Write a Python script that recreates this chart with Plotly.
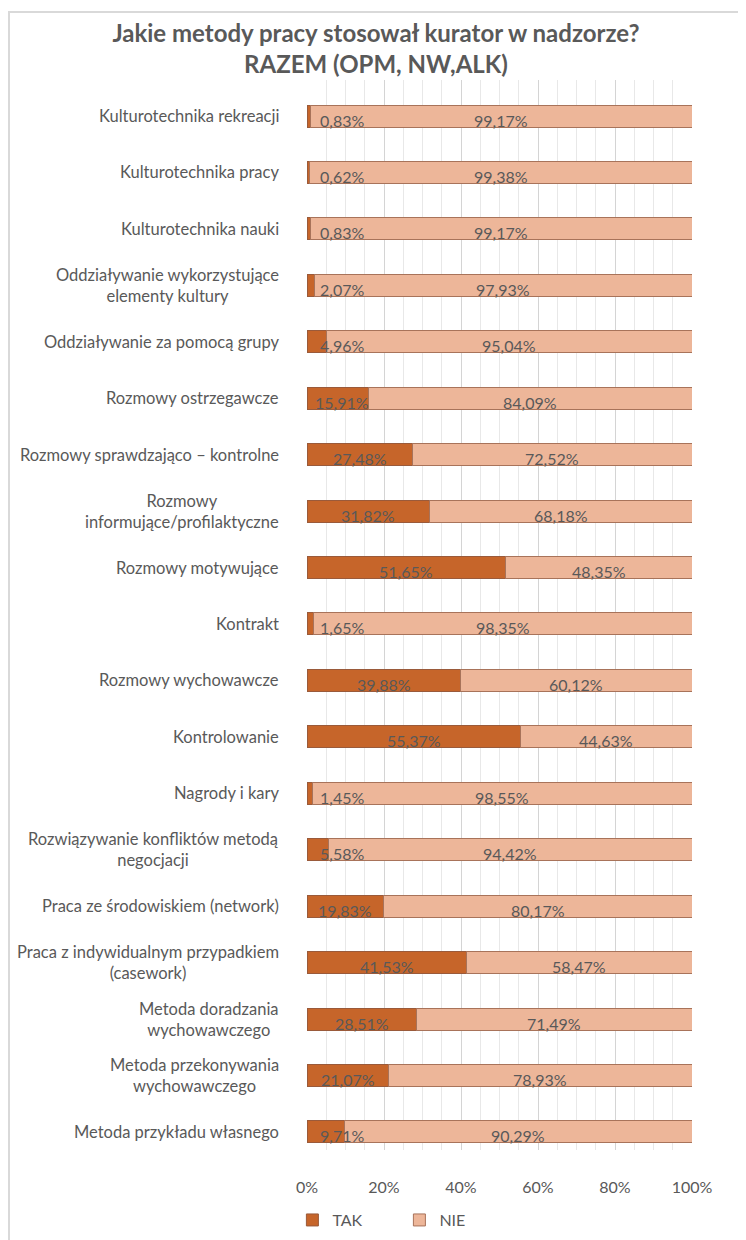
import plotly.graph_objects as go

categories = [
    "Kulturotechnika rekreacji",
    "Kulturotechnika pracy",
    "Kulturotechnika nauki",
    "Oddziaływanie wykorzystujące<br>elementy kultury",
    "Oddziaływanie za pomocą grupy",
    "Rozmowy ostrzegawcze",
    "Rozmowy sprawdzająco – kontrolne",
    "Rozmowy<br>informujące/profilaktyczne",
    "Rozmowy motywujące",
    "Kontrakt",
    "Rozmowy wychowawcze",
    "Kontrolowanie",
    "Nagrody i kary",
    "Rozwiązywanie konfliktów metodą<br>negocjacji",
    "Praca ze środowiskiem (network)",
    "Praca z indywidualnym przypadkiem<br>(casework)",
    "Metoda doradzania<br>wychowawczego",
    "Metoda przekonywania<br>wychowawczego",
    "Metoda przykładu własnego",
]
tak = [0.83, 0.62, 0.83, 2.07, 4.96, 15.91, 27.48, 31.82, 51.65, 1.65,
       39.88, 55.37, 1.45, 5.58, 19.83, 41.53, 28.51, 21.07, 9.71]
nie = [99.17, 99.38, 99.17, 97.93, 95.04, 84.09, 72.52, 68.18, 48.35, 98.35,
       60.12, 44.63, 98.55, 94.42, 80.17, 58.47, 71.49, 78.93, 90.29]
x_ticks = [0, 20, 40, 60, 80, 100]
series_names = ["TAK", "NIE"]

GRAY = "#595959"
FONT = "Lato"
C_TAK = "#C6652A"
C_NIE = "#EDB699"

def fmt(v):
    return f"{v:.2f}".replace(".", ",") + "%"

fig = go.Figure()
fig.add_trace(go.Bar(
    name=series_names[0], y=categories, x=tak, orientation="h",
    marker=dict(color=C_TAK, line=dict(color="#9A5A3A", width=1)),
    width=0.39, hoverinfo="skip",
))
fig.add_trace(go.Bar(
    name=series_names[1], y=categories, x=nie, orientation="h",
    marker=dict(color=C_NIE, line=dict(color="#A8735A", width=1)),
    width=0.39, hoverinfo="skip",
))

annotations = []
for cat, t, n in zip(categories, tak, nie):
    annotations.append(dict(
        x=max(t / 2, 9.0), y=cat, xref="x", yref="y", text=fmt(t),
        showarrow=False, xanchor="center", yanchor="middle", yshift=-4,
        font=dict(family=FONT, size=16, color=GRAY),
    ))
    annotations.append(dict(
        x=t + n / 2, y=cat, xref="x", yref="y", text=fmt(n),
        showarrow=False, xanchor="center", yanchor="middle", yshift=-4,
        font=dict(family=FONT, size=16, color=GRAY),
    ))
    annotations.append(dict(
        x=-0.068, y=cat, xref="paper", yref="y", text=cat,
        showarrow=False, xanchor="right", yanchor="middle", align="center",
        font=dict(family=FONT, size=16.5, color=GRAY),
    ))

fig.update_layout(
    width=738, height=1232,
    margin=dict(l=299, r=54, t=72, b=90),
    paper_bgcolor="white", plot_bgcolor="white",
    barmode="stack",
    font=dict(family=FONT, color=GRAY, size=16),
    title=dict(
        text="<b>Jakie metody pracy stosował kurator w nadzorze?<br>RAZEM (OPM, NW,ALK)</b>",
        x=0.4986, xanchor="center", y=0.9724, yanchor="top",
        font=dict(family=FONT, size=24, color=GRAY),
    ),
    xaxis=dict(
        range=[0, 100], tickvals=x_ticks, ticktext=[f"{v}%" for v in x_ticks],
        showgrid=True, gridcolor="#D4D4D4", gridwidth=1,
        minor=dict(dtick=5, showgrid=True, gridcolor="#E8E8E8", gridwidth=1),
        zeroline=False, showline=False, ticks="",
        ticklabelstandoff=26, automargin=False,
        tickfont=dict(family=FONT, size=16, color=GRAY),
    ),
    yaxis=dict(
        type="category", categoryorder="array", categoryarray=categories,
        range=[18.32, -0.638], showticklabels=False, showgrid=False,
        zeroline=False, showline=False, ticks="", automargin=False,
    ),
    legend=dict(
        orientation="h", x=0.24, xanchor="center",
        yref="container", y=0.0162, yanchor="middle",
        font=dict(family=FONT, size=16, color=GRAY), traceorder="normal",
        itemwidth=30, entrywidth=62, entrywidthmode="pixels",
        bgcolor="rgba(0,0,0,0)",
    ),
    annotations=annotations,
    shapes=[dict(
        type="rect", xref="paper", yref="paper",
        x0=-0.774, x1=1.3, y0=-0.2, y1=1.0636,
        line=dict(color="#D9D9D9", width=2), fillcolor="rgba(0,0,0,0)",
        layer="below",
    )],
)

fig.write_html("out.html")
